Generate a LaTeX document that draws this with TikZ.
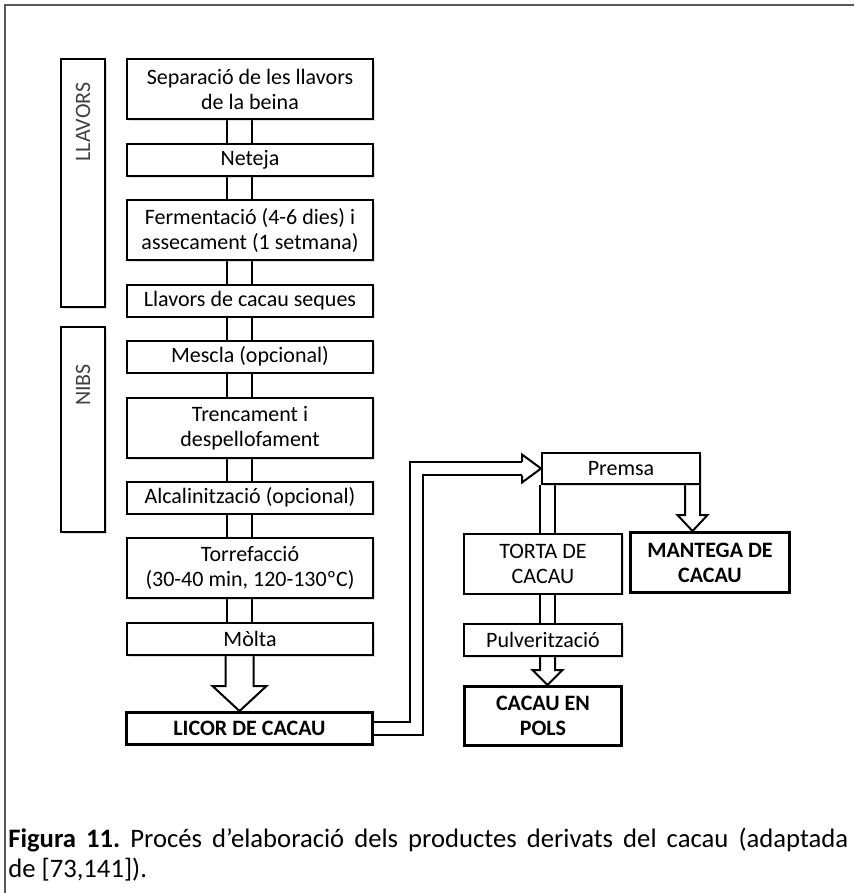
\documentclass[tikz,border=0pt]{standalone}
\usepackage{fontspec}
\setmainfont{Carlito}
\usetikzlibrary{calc,shadows,backgrounds}
\pgfdeclarelayer{background}
\pgfsetlayers{background,main}
\newcommand{\boxfont}{\fontsize{16.5}{18.75}\selectfont}
\newcommand{\capfont}{\fontsize{20}{22.5}\selectfont}
% hollow block arrow: top, tip, half shaft, half head, head length
\newcommand{\bigarrow}[5]{%
  \draw[tipline] ($(#1)+(-#3,0)$) -- ($(#2)+(-#3,-#5)$) -- ($(#2)+(-#4,-#5)$) -- (#2)
    -- ($(#2)+(#4,-#5)$) -- ($(#2)+(#3,-#5)$) -- ($(#1)+(#3,0)$);}
\tikzset{
  stage/.style={draw, fill=white, line width=1.5pt, inner sep=0pt, align=center,
    font=\boxfont, minimum width=184.5pt, minimum height=24pt,
    drop shadow={opacity=0.25, shadow xshift=1.2pt, shadow yshift=-1.2pt}},
  tall/.style={minimum height=45pt},
  product/.style={stage, line width=2.2pt, font=\boxfont\bfseries},
  phase/.style={stage, minimum width=33pt},
  phaselabel/.style={rotate=90, inner sep=0pt, font=\boxfont, text=black!75},
  mainpipe/.style={line width=1.5pt, double, double distance=17.25pt},
  sidepipe/.style={line width=1.5pt, double, double distance=9.75pt},
  lpipe/.style={line width=1.5pt, double, double distance=8.6pt},
  tipline/.style={line width=1.5pt},
  frame/.style={line width=1.5pt, draw=black!65}
}
\begin{document}
\begin{tikzpicture}[x=0.75pt,y=-0.75pt]
        \useasboundingbox (0,0) rectangle (854,893);
        \draw[frame] (5,893) -- (5,5) -- (854,5);

        \node[phase, minimum height=186pt] (llav) at (83,183) {};
        \node[phase, minimum height=153.75pt] (nibs) at (83,429.5) {};
        \node[phaselabel] (llavtext) at (83,122) {LLAVORS};
        \node[phaselabel] (nibstext) at (83,385) {NIBS};

        \node[stage, tall] (sep) at (250,89) {Separació de les llavors\\de la beina};
        \node[stage] (net) at (250,160) {Neteja};
        \node[stage, tall] (ferm) at (250,230) {Fermentació (4-6 dies) i\\assecament (1 setmana)};
        \node[stage] (sec) at (250,300.5) {Llavors de cacau seques};
        \node[stage] (mes) at (250,356.5) {Mescla (opcional)};
        \node[stage, tall] (tren) at (250,428) {Trencament i\\despellofament};
        \node[stage] (alc) at (250,497.5) {Alcalinització (opcional)};
        \node[stage, tall] (torr) at (250,568) {Torrefacció\\(30-40 min, 120-130ºC)};
        \node[stage] (molta) at (250,639) {Mòlta};
        \node[product] (licor) at (249.5,728.5) {LICOR DE CACAU};

        \node[stage, minimum width=118.5pt, minimum height=23.25pt] (premsa) at (621,468.5) {Premsa};
        \node[stage, tall, minimum width=118.5pt] (torta) at (543,563.5) {TORTA DE\\CACAU};
        \node[product, tall, minimum width=119.25pt] (mant) at (710,562.5) {MANTEGA DE\\CACAU};
        \node[stage, minimum width=118.5pt] (pulv) at (543,640) {Pulverització};
        \node[product, minimum width=117.75pt, minimum height=44.25pt] (pols) at (543,716) {CACAU EN\\POLS};

        \coordinate (spine) at (239.5,0);
        \coordinate (side) at (547.5,0);
        \coordinate (mantx) at (692.5,0);
        \coordinate (riser) at (416.5,600);
        \coordinate (headbase) at ($(premsa.west)+(-19,0)$);

        \begin{pgfonlayer}{background}
          \foreach \a/\b in {sep/net,net/ferm,ferm/sec,sec/mes,mes/tren,tren/alc,alc/torr,torr/molta}
            \draw[mainpipe] (\a.south -| spine) -- (\b.north -| spine);
          \draw[sidepipe] (premsa.south -| side) -- (torta.north -| side);
          \draw[sidepipe] (torta.south -| side) -- (pulv.north -| side);

          \draw[lpipe] (licor.east) -| (riser) |- (headbase);
          \draw[tipline] ($(headbase)+(0,-6.75)$) -- ($(headbase)+(0,-14)$) -- (premsa.west)
            -- ($(headbase)+(0,14)$) -- ($(headbase)+(0,6.75)$);

          \bigarrow{molta.south -| spine}{licor.north -| spine}{14}{27}{25}
          \bigarrow{premsa.south -| mantx}{mant.north -| mantx}{7.5}{15}{16}
          \bigarrow{pulv.south -| side}{pols.north -| side}{7.5}{15}{15}
        \end{pgfonlayer}

        \node[anchor=north west, inner sep=0pt, text width=630pt, align=justify, font=\capfont\frenchspacing]
          (caption) at (8,828) {\textbf{Figura 11.} Procés d’elaboració dels productes derivats del cacau (adaptada\linebreak de [73,141]).};
      \end{tikzpicture}
\end{document}
